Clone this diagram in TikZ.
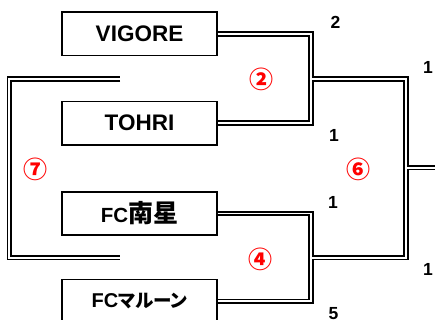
\documentclass[tikz,border=0pt]{standalone}
\usepackage{fontspec}
\setmainfont{Liberation Sans}
\newfontfamily\jp{Noto Sans CJK JP}[RawFeature={+palt}]
\newfontfamily\jpc{Noto Sans CJK JP}
\begin{document}
\begin{tikzpicture}[x=1pt,y=-1pt,
  team/.style={draw=black,line width=1.6pt,minimum width=154.6pt,minimum height=43.3pt,inner sep=0pt,
    font=\fontsize{22.5}{24}\selectfont\bfseries},
  dbl/.style={draw=black,line width=1.75pt,double=white,double distance=1.9pt,line cap=butt},
  score/.style={font=\fontsize{17.5}{19}\selectfont\bfseries,inner sep=0pt},
  match/.style={text=red,font=\fontsize{24}{26}\jpc\bfseries\selectfont,inner sep=0pt}]
\useasboundingbox (0,0) rectangle (435,320);
\node[team] (v) at (139.5,33.9) {VIGORE};
\node[team] (t) at (139.5,123.2) {TOHRI};
\node[team] (f) at (139.5,213.5) {\fontsize{20.5}{24}\selectfont FC{\jpc\fontsize{25}{26}\selectfont 南星}};
\node[team] (m) at (139.5,301.2) {\fontsize{20}{24}\selectfont FC{\jp\fontsize{18.5}{24}\selectfont マルーン}};
% junctions
\coordinate (a1) at (310.8,79);
\coordinate (a2) at (310.8,257.7);
\coordinate (s1) at (311.9,79);
\coordinate (s2) at (311.9,257.7);
\coordinate (k) at (405.8,167.7);
\coordinate (ks) at (406.9,167.7);
\coordinate (out) at (435,167.7);
\coordinate (l1) at (120,79.2);
\coordinate (l2) at (120,257.6);
\coordinate (lc) at (9.4,168);
% brackets
\draw[dbl] (v.east) -| (a1) |- (t.east);
\draw[dbl] (f.east) -| (a2) |- (m.east);
\draw[dbl] (s1) -| (k) |- (s2);
\draw[dbl] (ks) -- (out);
\draw[dbl] (l1) -| (lc) |- (l2);
% scores
\node[score] (sc1) at (335.5,22.5) {2};
\node[score] (sc2) at (334,135) {1};
\node[score] (sc3) at (333,202.5) {1};
\node[score] (sc4) at (333.5,313.5) {5};
\node[score] (sc5) at (428,67.5) {1};
\node[score] (sc6) at (428,269.5) {1};
% match numbers
\node[match] (n2) at (261,79.5) {②};
\node[match] (n4) at (260.5,259) {④};
\node[match] (n6) at (358,169) {⑥};
\node[match] (n7) at (35.5,169) {⑦};
\end{tikzpicture}
\end{document}
